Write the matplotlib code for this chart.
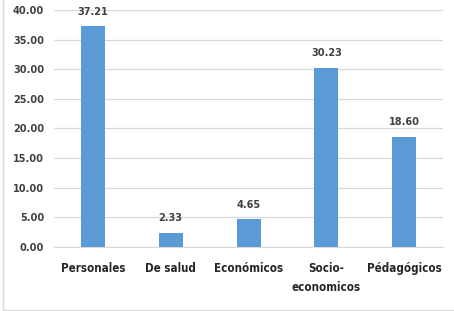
import matplotlib
matplotlib.use("Agg")
import matplotlib.pyplot as plt
from matplotlib.patches import Rectangle

categories = ["Personales", "De salud", "Económicos", "Socio-\neconomicos", "Pédagógicos"]
values = [37.21, 2.33, 4.65, 30.23, 18.60]
yticks = [0, 5, 10, 15, 20, 25, 30, 35, 40]

plt.rcParams['font.family'] = ['DejaVu Sans']
plt.rcParams['font.stretch'] = 'condensed'

fig = plt.figure(figsize=(4.54, 3.11), dpi=100)
ax = fig.add_axes([0.119, 0.206, 0.857, 0.762])
x = range(len(categories))
ax.bar(x, values, width=0.31, color="#5B9BD5", zorder=3)
for xi, v in zip(x, values):
    ax.annotate(f"{v:.2f}", (xi, v), xytext=(0, 7), textcoords="offset points",
                ha="center", va="bottom", fontsize=7.8, fontweight="bold",
                color="#404040", fontstretch="condensed")
ax.set_xlim(-0.5, len(categories) - 0.5)
ax.set_ylim(0, 40)
ax.set_yticks(yticks)
ax.set_yticklabels([f"{t:.2f}" for t in yticks], fontsize=7.8, fontweight="bold",
                   color="#404040", fontstretch="condensed")
ax.set_xticks(list(x))
ax.set_xticklabels(categories, fontsize=8.3, fontweight="bold", color="#262626",
                   linespacing=1.6, fontstretch="condensed")
ax.yaxis.grid(True, color="#D9D9D9", linewidth=0.9, zorder=0)
for s in ["top", "right", "left"]:
    ax.spines[s].set_visible(False)
ax.spines["bottom"].set_color("#D9D9D9")
ax.tick_params(axis="x", length=0, pad=11)
ax.tick_params(axis="y", length=0, pad=7)
fig.patches.append(Rectangle((0.007, 0.004), 1.2, 1.2, transform=fig.transFigure,
                             fill=False, edgecolor="#D9D9D9", linewidth=1))
fig.savefig("out.png", dpi=100)
